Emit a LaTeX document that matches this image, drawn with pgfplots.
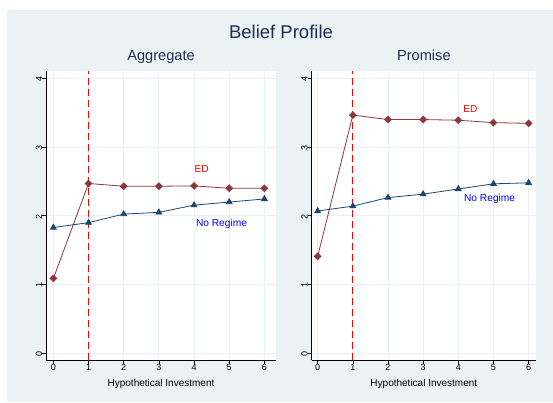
\documentclass[border=0pt]{standalone}
\usepackage{pgfplots}
\pgfplotsset{compat=1.18}
\usepackage{fontspec}
\setmainfont{Liberation Sans}

\definecolor{bgc}{RGB}{234,242,243}
\definecolor{gridc}{RGB}{232,240,242}
\definecolor{edc}{RGB}{144,53,59}
\definecolor{nrc}{RGB}{26,71,111}
\definecolor{ttl}{RGB}{30,45,83}

\tikzset{
  serieslabel/.style={anchor=base west, inner sep=0pt,
    font=\fontsize{10.2}{12}\selectfont},
}

\pgfplotsset{
  beliefpanel/.style={
    scale only axis,
    anchor=south west,
    height=289pt,
    ymin=-0.0975, ymax=4.106,
    axis x line*=bottom, axis y line*=left,
    axis line style={black, line width=0.7pt, -},
    axis background/.style={fill=white},
    xtick={0,1,...,6}, ytick={0,1,...,4},
    grid=major,
    major grid style={gridc, line width=0.9pt},
    tick align=outside, major tick length=4pt,
    tick style={black, line width=0.6pt},
    /pgf/number format/assume math mode=true,
    ticklabel style={font=\fontsize{9}{10}\selectfont, inner sep=0pt},
    xticklabel style={anchor=base, yshift=-6.7pt},
    yticklabel style={rotate=90, anchor=base, xshift=-0.8pt},
    xlabel={Hypothetical Investment},
    xlabel style={font=\fontsize{10}{12}\selectfont, anchor=base,
      at={(0.5,0)}, yshift=-26.3pt, inner sep=0pt},
    title style={font=\fontsize{14.6}{16}\selectfont, color=ttl, anchor=base,
      at={(0.5,1)}, yshift=4.5pt, inner sep=0pt},
    clip=false,
  },
  edline/.style={edc, line width=0.8pt, mark=square*, mark size=2.35pt,
    mark options={rotate=45, solid, fill=edc}},
  nrline/.style={nrc, line width=0.8pt, mark=triangle*, mark size=3.3pt,
    mark options={solid, fill=nrc}},
  xref/.style={red, line width=0.9pt, dash pattern=on 7pt off 4pt, mark=none},
}

\begin{document}
\begin{tikzpicture}
  % canvas and backdrop
  \path[use as bounding box] (0,0) rectangle (553pt,402pt);
  \fill[bgc] (7pt,0pt) rectangle (553pt,392pt);

  \node[anchor=base, font=\fontsize{18.5}{20}\selectfont, text=ttl, inner sep=0pt]
    at (281pt,363.5pt) {Belief Profile};

  % Aggregate
  \begin{axis}[beliefpanel, at={(46pt,42pt)}, width=230pt,
      xmin=-0.21, xmax=6.33, title={Aggregate}]
    \addplot[xref] coordinates {(1,-0.0975) (1,4.106)};
    \addplot[edline] coordinates {
      (0,1.09) (1,2.47) (2,2.43) (3,2.43) (4,2.435) (5,2.40) (6,2.40)};
    \addplot[nrline] coordinates {
      (0,1.83) (1,1.90) (2,2.025) (3,2.05) (4,2.155) (5,2.20) (6,2.245)};
    \node[serieslabel, text=red] at (axis cs:4.01,2.633) {ED};
    \node[serieslabel, text=blue] at (axis cs:4.05,1.847) {No Regime};
  \end{axis}

  % Promise
  \begin{axis}[beliefpanel, at={(311.7pt,42pt)}, width=224.3pt,
      xmin=-0.17, xmax=6.21, title={Promise}]
    \addplot[xref] coordinates {(1,-0.0975) (1,4.106)};
    \addplot[edline] coordinates {
      (0,1.41) (1,3.465) (2,3.40) (3,3.40) (4,3.39) (5,3.355) (6,3.345)};
    \addplot[nrline] coordinates {
      (0,2.07) (1,2.14) (2,2.265) (3,2.315) (4,2.39) (5,2.465) (6,2.48)};
    \node[serieslabel, text=red] at (axis cs:4.14,3.505) {ED};
    \node[serieslabel, text=blue] at (axis cs:4.16,2.205) {No Regime};
  \end{axis}
\end{tikzpicture}
\end{document}
